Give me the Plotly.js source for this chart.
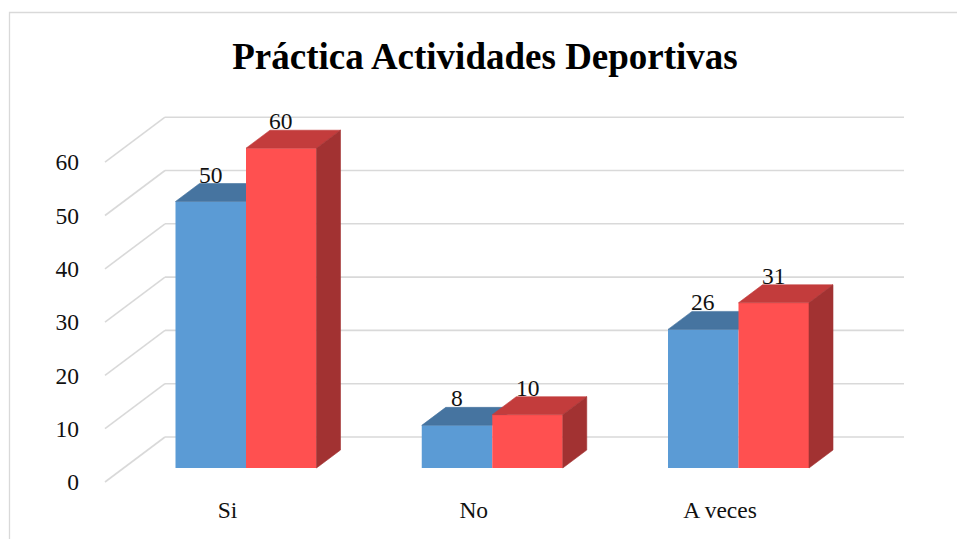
<!DOCTYPE html>
<html>
<head>
<meta charset="utf-8">
<script src="https://cdn.plot.ly/plotly-3.0.1.min.js"></script>
<style>
  html, body { margin: 0; padding: 0; background: #fff; }
  #chart { width: 957px; height: 539px; }
</style>
</head>
<body>
<div id="chart"></div>
<script>
// ---- data ----
const categories = ['Si', 'No', 'A veces'];
const seriesBlue = [50, 8, 26];
const seriesRed  = [60, 10, 31];
const yTickValues = [0, 10, 20, 30, 40, 50, 60];

// ---- geometry (pixels) ----
const W = 957, H = 539;
const plotL = 100, plotR = 910, plotT = 95, plotB = 487;
const frontZeroPx = 482;        // y pixel of value 0 on the front (axis) plane
const diagStartPx = 105;        // x pixel where front diagonals start
const backEndPx = 904;          // x pixel where back wall lines end
const firstCatFrontPx = 227.5;  // x pixel of first category on front plane
const ux = 246.25;              // px per category
const uy = 5.33;                // px per value unit
const barShift = { x: 18.5, y: 14 };   // bar plane offset from front plane
const backWall = { x: 60, y: 45 };     // back wall offset from front plane
const barWidthPx = 70.5;
const barDepth = { x: 24, y: 18 };

const plotW = plotR - plotL, plotH = plotB - plotT;

// front-plane axes
const fxRange = [(plotL - firstCatFrontPx) / ux, (plotR - firstCatFrontPx) / ux];
const fyRange = [(frontZeroPx - plotB) / uy, (frontZeroPx - plotT) / uy];
// bar-plane axes
const bxRange = [fxRange[0] - barShift.x / ux, fxRange[1] - barShift.x / ux];
const byRange = [fyRange[0] - barShift.y / uy, fyRange[1] - barShift.y / uy];

const bw = barWidthPx / ux;
const ddx = barDepth.x / ux, ddy = barDepth.y / uy;
const xIdx = categories.map((c, i) => i);

const colors = {
  blueFront: '#5b9bd5', blueTop: '#4674a0',
  redFront: '#ff5050', redTop: '#c33c3c', redSide: '#a23232'
};

function topFaces(vals, off) {
  const xs = [], ys = [];
  vals.forEach((v, i) => {
    const x0 = i + off, x1 = i + off + bw;
    xs.push(x0, x1, x1 + ddx, x0 + ddx, x0, null);
    ys.push(v, v, v + ddy, v + ddy, v, null);
  });
  return { xs, ys };
}
function sideFaces(vals, off) {
  const xs = [], ys = [];
  vals.forEach((v, i) => {
    const x1 = i + off + bw;
    xs.push(x1, x1 + ddx, x1 + ddx, x1, x1, null);
    ys.push(0, ddy, v + ddy, v, 0, null);
  });
  return { xs, ys };
}

const blueTop = topFaces(seriesBlue, -bw);
const redTop = topFaces(seriesRed, 0);
const redSide = sideFaces(seriesRed, 0);

function poly(p, color, xa, ya) {
  return {
    type: 'scatter', mode: 'lines', x: p.xs, y: p.ys, fill: 'toself',
    fillcolor: color, line: { width: 0.6, color: color },
    xaxis: xa, yaxis: ya, hoverinfo: 'skip', showlegend: false
  };
}

const traces = [
  { type: 'bar', x: xIdx, y: seriesBlue, offset: -bw, width: bw,
    marker: { color: colors.blueFront, line: { width: 0 } },
    xaxis: 'x2', yaxis: 'y2', showlegend: false, hoverinfo: 'skip', name: 'Serie 1' },
  poly(blueTop, colors.blueTop, 'x2', 'y2'),
  { type: 'bar', x: xIdx, y: seriesRed, offset: 0, width: bw,
    marker: { color: colors.redFront, line: { width: 0 } },
    xaxis: 'x3', yaxis: 'y3', showlegend: false, hoverinfo: 'skip', name: 'Serie 2' },
  poly(redTop, colors.redTop, 'x3', 'y3'),
  poly(redSide, colors.redSide, 'x3', 'y3')
];

// gridlines (perspective) on front-plane axes
const gridColor = '#d9d9d9';
const xL = (diagStartPx - firstCatFrontPx) / ux;
const xB = xL + backWall.x / ux;
const xR = (backEndPx - firstCatFrontPx) / ux;
const dyB = backWall.y / uy;
const shapes = [];
yTickValues.forEach(t => {
  shapes.push({ type: 'line', xref: 'x', yref: 'y', x0: xL, y0: t, x1: xB, y1: t + dyB,
    line: { color: gridColor, width: 1.6 }, layer: 'below' });
  shapes.push({ type: 'line', xref: 'x', yref: 'y', x0: xB, y0: t + dyB, x1: xR, y1: t + dyB,
    line: { color: gridColor, width: 1.6 }, layer: 'below' });
});
// outer frame (top and left edges)
const fx = px => (px - plotL) / plotW;
const fy = py => (plotB - py) / plotH;
shapes.push({ type: 'path', xref: 'paper', yref: 'paper',
  path: `M ${fx(9.5)} ${fy(545)} L ${fx(9.5)} ${fy(12.5)} L ${fx(965)} ${fy(12.5)}`,
  line: { color: '#d9d9d9', width: 1.3 }, layer: 'below' });

// data labels
const serif = '"Liberation Serif", "Times New Roman", Times, serif';
const labelFont = { family: serif, size: 23.5, color: '#111' };
const annotations = [];
seriesBlue.forEach((v, i) => annotations.push({
  xref: 'x2', yref: 'y2', x: i - bw / 2, y: v + ddy, text: String(v),
  showarrow: false, yanchor: 'bottom', yshift: -6, font: labelFont }));
seriesRed.forEach((v, i) => annotations.push({
  xref: 'x3', yref: 'y3', x: i + bw / 2, y: v + ddy, text: String(v),
  showarrow: false, yanchor: 'bottom', yshift: -6, font: labelFont }));

const hidden = { visible: false, showgrid: false, zeroline: false, fixedrange: true };

const layout = {
  width: W, height: H,
  margin: { l: plotL, r: W - plotR, t: plotT, b: H - plotB, pad: 0 },
  paper_bgcolor: '#fff', plot_bgcolor: 'rgba(0,0,0,0)',
  showlegend: false, hovermode: false,
  font: { family: serif },
  title: {
    text: 'Práctica Actividades Deportivas',
    font: { family: serif, size: 37, color: '#000', weight: 'bold' },
    xref: 'container', x: 485 / W, xanchor: 'center',
    yref: 'container', y: 1 - 56 / H, yanchor: 'middle'
  },
  xaxis: {
    range: fxRange, tickvals: xIdx, ticktext: categories, showgrid: false, zeroline: false,
    showline: false, ticks: '', ticklabelstandoff: 6, tickfont: labelFont, fixedrange: true
  },
  yaxis: {
    range: fyRange, tickvals: yTickValues, showgrid: false, zeroline: false,
    showline: false, ticks: '', ticklabelstandoff: 20, tickfont: labelFont, fixedrange: true
  },
  xaxis2: Object.assign({ range: bxRange, overlaying: 'x', anchor: 'y2' }, hidden),
  yaxis2: Object.assign({ range: byRange, overlaying: 'y', anchor: 'x2' }, hidden),
  xaxis3: Object.assign({ range: bxRange, overlaying: 'x', anchor: 'y3' }, hidden),
  yaxis3: Object.assign({ range: byRange, overlaying: 'y', anchor: 'x3' }, hidden),
  shapes: shapes,
  annotations: annotations
};

Plotly.newPlot('chart', traces, layout, { staticPlot: true, displayModeBar: false });
</script>
</body>
</html>
